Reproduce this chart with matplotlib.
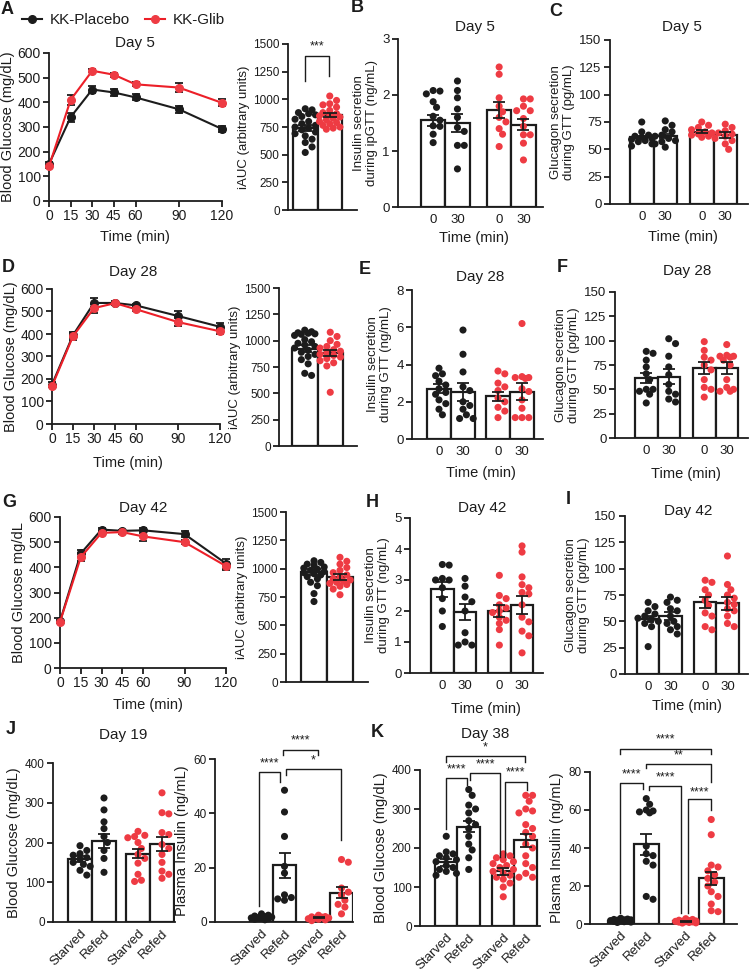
import numpy as np
import matplotlib
matplotlib.use('Agg')
import matplotlib.pyplot as plt
from matplotlib.lines import Line2D

plt.rcParams['font.family'] = ['Liberation Sans', 'DejaVu Sans']
plt.rcParams['text.color'] = '#1c1c1c'
plt.rcParams['axes.labelcolor'] = '#1c1c1c'

BLK = '#1c1c1c'
RED = '#ee3b43'
RED_LINE = '#ec1f28'

# ---- GTT curves (mean, sem) ----
t = [0, 15, 30, 45, 60, 90, 120]
A_plac = [150, 340, 452, 440, 420, 372, 292]
A_plac_err = [8, 18, 15, 13, 12, 15, 12]
A_glib = [140, 410, 528, 512, 473, 460, 398]
A_glib_err = [5, 20, 6, 8, 8, 18, 14]
D_plac = [175, 395, 538, 538, 527, 480, 432]
D_plac_err = [10, 15, 20, 8, 8, 22, 18]
D_glib = [168, 390, 515, 537, 510, 453, 412]
D_glib_err = [5, 15, 20, 6, 8, 18, 12]
G_plac = [185, 455, 550, 545, 547, 532, 415]
G_plac_err = [5, 12, 5, 5, 10, 12, 20]
G_glib = [183, 440, 537, 540, 523, 500, 405]
G_glib_err = [5, 15, 8, 6, 20, 8, 15]

# ---- iAUC ----
A_iauc_mean = [740, 860]
A_iauc_sem = [25, 20]
A_iauc_pts = [[915, 905, 880, 870, 860, 845, 820, 800, 780, 765, 750, 740, 725, 705, 690, 670, 640, 610, 570, 520],
              [1030, 990, 960, 950, 930, 900, 880, 870, 860, 850, 840, 830, 815, 800, 790, 780, 765, 750, 740, 730]]
D_iauc_mean = [925, 880]
D_iauc_sem = [30, 30]
D_iauc_pts = [[1100, 1085, 1075, 1070, 1065, 1060, 1050, 1010, 990, 975, 960, 945, 930, 910, 890, 870, 850, 820, 780, 690, 670],
              [1080, 1040, 1000, 965, 945, 930, 915, 900, 885, 870, 860, 845, 830, 810, 790, 760, 510]]
G_iauc_mean = [970, 925]
G_iauc_sem = [25, 25]
G_iauc_pts = [[1070, 1055, 1040, 1030, 1015, 1005, 995, 985, 975, 965, 955, 945, 930, 910, 880, 850, 780, 710],
              [1100, 1065, 1040, 1010, 985, 965, 945, 925, 910, 900, 890, 880, 870, 860, 845, 820, 770]]

# ---- secretion during GTT: Placebo 0, Placebo 30, Glib 0, Glib 30 ----
time_labels = ['0', '30', '0', '30']
B_mean = [1.55, 1.50, 1.73, 1.47]
B_sem = [0.10, 0.16, 0.14, 0.10]
B_pts = [[2.08, 2.07, 2.02, 1.88, 1.78, 1.62, 1.55, 1.45, 1.44, 1.30, 1.15],
         [2.25, 2.08, 1.95, 1.75, 1.60, 1.42, 1.35, 1.10, 1.10, 0.68],
         [2.50, 2.37, 1.95, 1.80, 1.70, 1.60, 1.52, 1.40, 1.30, 1.08],
         [1.93, 1.93, 1.80, 1.72, 1.72, 1.58, 1.44, 1.29, 1.29, 1.14, 0.84]]
C_mean = [61, 62, 66, 63]
C_sem = [1.5, 2.0, 1.5, 2.5]
C_pts = [[75, 66, 63, 62, 61, 60, 59, 58, 57, 55, 53],
         [76, 72, 68, 66, 63, 62, 60, 58, 57, 55, 52],
         [75, 72, 70, 68, 66, 65, 64, 63, 62, 61],
         [73, 70, 67, 65, 64, 62, 60, 58, 55, 50]]
E_mean = [2.7, 2.5, 2.3, 2.55]
E_sem = [0.25, 0.48, 0.25, 0.45]
E_pts = [[3.8, 3.5, 3.4, 3.1, 2.9, 2.7, 2.5, 2.4, 2.1, 1.9, 1.6, 1.3],
         [5.85, 4.55, 3.6, 2.8, 2.6, 2.0, 1.8, 1.6, 1.3, 1.1, 1.1],
         [3.65, 3.5, 3.0, 2.8, 2.6, 2.2, 2.0, 1.7, 1.5, 1.15],
         [6.2, 3.35, 3.3, 3.3, 3.25, 2.7, 2.55, 2.1, 1.65, 1.15, 1.15, 1.15]]
F_mean = [62, 63, 72, 72]
F_sem = [5, 8, 6, 6]
F_pts = [[89, 87, 80, 73, 66, 60, 50, 50, 48, 45, 36],
         [102, 97, 84, 73, 65, 55, 48, 45, 40, 37],
         [99, 90, 83, 80, 75, 70, 60, 52, 50, 42],
         [96, 85, 84, 84, 83, 80, 75, 60, 52, 50, 48, 48]]
H_mean = [2.7, 1.97, 2.0, 2.2]
H_sem = [0.25, 0.27, 0.2, 0.3]
H_pts = [[3.5, 3.48, 3.05, 3.0, 3.0, 2.75, 2.4, 2.0, 1.5],
         [3.05, 2.8, 2.45, 2.3, 2.0, 1.3, 1.0, 0.9, 0.9],
         [3.15, 2.5, 2.4, 2.2, 2.1, 2.0, 1.95, 1.8, 1.7, 1.6, 1.4, 0.9],
         [4.1, 3.9, 3.1, 2.85, 2.75, 2.6, 2.55, 2.2, 1.8, 1.65, 1.35, 1.2, 0.65]]
I_mean = [52, 55, 68, 67]
I_sem = [3, 4, 5, 6]
I_pts = [[68, 64, 60, 57, 55, 53, 52, 50, 48, 45, 26],
         [73, 70, 68, 62, 60, 55, 50, 48, 45, 42, 38],
         [89, 87, 80, 75, 70, 65, 58, 55, 45, 42],
         [112, 85, 80, 75, 72, 68, 66, 62, 60, 55, 48, 45]]

# ---- starved / refed ----
feed_labels = ['Starved', 'Refed', 'Starved', 'Refed']
J_glu_mean = [158, 203, 172, 196]
J_glu_sem = [7, 18, 11, 18]
J_glu_pts = [[192, 180, 172, 168, 162, 158, 150, 145, 140, 130, 118],
             [312, 282, 252, 235, 215, 200, 180, 160, 125],
             [228, 218, 215, 212, 200, 185, 170, 160, 148, 120, 105, 102],
             [325, 275, 272, 225, 220, 195, 185, 170, 150, 128, 120, 110]]
J_ins_mean = [1.6, 20.8, 1.5, 10.8]
J_ins_sem = [0.3, 4.6, 0.2, 2.1]
J_ins_pts = [[3.0, 2.5, 2.2, 2.0, 1.8, 1.5, 1.3, 1.0, 0.8, 1.2, 1.6],
             [48.5, 40.5, 31.5, 20.5, 18.0, 10.0, 9.0, 8.5, 8.0],
             [2.5, 2.0, 1.8, 1.5, 1.2, 1.0, 0.8, 0.5, 1.4, 1.9],
             [23.0, 22.0, 12.5, 11.0, 10.0, 8.0, 6.5, 5.5, 3.0]]
K_glu_mean = [163, 255, 140, 220]
K_glu_sem = [8, 15, 8, 17]
K_glu_pts = [[230, 190, 185, 180, 175, 170, 165, 155, 150, 145, 140, 135, 130],
             [350, 335, 310, 300, 290, 270, 260, 250, 230, 210, 195, 175, 145],
             [185, 180, 175, 170, 165, 160, 155, 150, 145, 140, 135, 130, 125, 120, 110, 100, 75],
             [335, 335, 320, 300, 295, 290, 260, 250, 240, 230, 210, 200, 180, 160, 150, 135, 125, 125]]
K_ins_mean = [1.8, 42, 1.5, 24]
K_ins_sem = [0.3, 5.5, 0.3, 3.5]
K_ins_pts = [[3.0, 2.6, 2.4, 2.2, 2.0, 1.8, 1.6, 1.4, 1.2, 1.0, 0.8, 1.5, 2.2],
             [66, 63, 60, 59.5, 59, 58.5, 41, 37, 36, 33, 31, 14.5, 13],
             [2.8, 2.4, 2.0, 1.8, 1.6, 1.4, 1.2, 1.0, 0.8, 0.6, 0.5, 1.5, 1.1],
             [55, 47, 31, 30, 28, 26, 24, 22, 20, 17, 14.5, 10.5, 7, 6.5]]

group_colors = [BLK, BLK, RED, RED]

W, H = 753, 971
fig = plt.figure(figsize=(W / 100, H / 100), dpi=100)


def px_axes(l, t_, r, b):
    return fig.add_axes([l / W, 1 - b / H, (r - l) / W, (b - t_) / H])


def geom(L, R, b0, bw, r0=None):
    # bar positions in units of one bar width, limits matching the pixel layout
    pos = [0, 1] if r0 is None else [0, 1, (r0 - b0) / bw, (r0 - b0) / bw + 1]
    return pos, ((L - b0) / bw - 0.5, (R - b0) / bw - 0.5)


def style(ax, fs=9):
    for s in ['top', 'right']:
        ax.spines[s].set_visible(False)
    for s in ['left', 'bottom']:
        ax.spines[s].set_linewidth(1.3)
        ax.spines[s].set_color(BLK)
    ax.tick_params(direction='out', length=4, width=1.3, colors=BLK, labelsize=fs, pad=2)


def swarm(ax, x0, vals, color, d=6.8, maxw=12):
    tr = ax.transData
    ys = tr.transform(np.column_stack([np.full(len(vals), x0), vals]))[:, 1]
    cx = tr.transform((x0, 0))[0]
    placed = []
    xs = np.zeros(len(vals))
    for i in np.argsort(vals)[::-1]:
        best, best_gap = 0.0, -1
        for k in range(40):
            off = ((k + 1) // 2) * d * 0.5 * (1 if k % 2 else -1)
            if abs(off) > maxw:
                continue
            gap = min([np.hypot(off - px, ys[i] - py) for px, py in placed] or [99])
            if gap >= d * 0.9:
                best = off
                break
            if gap > best_gap:
                best, best_gap = off, gap
        placed.append((best, ys[i]))
        xs[i] = best
    back = tr.inverted().transform(np.column_stack([cx + xs, ys]))
    ax.scatter(back[:, 0], vals, s=26, color=color, edgecolors='none', zorder=4, clip_on=False)


def bar_group(ax, pos, means, sems, pts, colors, cap=4):
    ax.bar(pos, means, width=1.0, color='white', edgecolor=BLK, linewidth=1.6, zorder=2)
    for p, v, c in zip(pos, pts, colors):
        swarm(ax, p, v, c)
    ax.errorbar(pos, means, yerr=sems, fmt='none', ecolor=BLK, elinewidth=1.3,
                capsize=cap, capthick=1.3, zorder=5)


def bracket(ax, x1, x2, y, y1, y2, label, ly, fs=9):
    ax.plot([x1, x1, x2, x2], [y1, y, y, y2], color=BLK, lw=1.0, clip_on=False, zorder=6)
    ax.text((x1 + x2) / 2, ly, label, ha='center', va='center', fontsize=fs, clip_on=False)


def gtt(ax, ylab, plac, plac_err, glib, glib_err):
    style(ax, 10)
    ax.set_xlim(0, 120)
    ax.set_ylim(0, 600)
    for m, e, lc, mc, z in [(plac, plac_err, BLK, BLK, 3), (glib, glib_err, RED_LINE, RED, 4)]:
        cont = ax.errorbar(t, m, yerr=e, color=lc, lw=1.5, marker='o', ms=5.5, mfc=mc, mec=mc,
                           ecolor=BLK, elinewidth=1.3, capsize=3, capthick=1.3, zorder=z)
        for a in cont.get_children():
            a.set_clip_on(False)
    ax.set_xticks(t)
    ax.set_yticks(np.arange(0, 601, 100))
    ax.set_ylabel(ylab, fontsize=10.5, labelpad=2)


def iauc(ax, L, R, b0, bw, means, sems, pts):
    style(ax, 8.5)
    pos, xl = geom(L, R, b0, bw)
    ax.set_xlim(*xl)
    ax.set_ylim(0, 1500)
    ax.set_yticks(np.arange(0, 1501, 250))
    ax.set_xticks([])
    bar_group(ax, pos, means, sems, pts, [BLK, RED], cap=5)
    ax.set_ylabel('iAUC (arbitrary units)', fontsize=9.5, labelpad=2)
    return pos


def secretion(ax, L, R, b0, bw, r0, ymax, step, ylab, means, sems, pts):
    style(ax, 9.5)
    pos, xl = geom(L, R, b0, bw, r0)
    ax.set_xlim(*xl)
    ax.set_ylim(0, ymax)
    ax.set_yticks(np.arange(0, ymax + step / 2, step))
    ax.set_xticks(pos)
    ax.set_xticklabels(time_labels)
    ax.tick_params(axis='x', length=0, pad=5)
    bar_group(ax, pos, means, sems, pts, group_colors)
    ax.set_ylabel(ylab, fontsize=9.5, labelpad=3, linespacing=1.1)
    return pos


def feeding(ax, L, R, b0, bw, r0, ymax, step, ylab, means, sems, pts):
    style(ax, 8.5)
    pos, xl = geom(L, R, b0, bw, r0)
    ax.set_xlim(*xl)
    ax.set_ylim(0, ymax)
    ax.set_yticks(np.arange(0, ymax + step / 2, step))
    ax.set_xticks(pos)
    ax.set_xticklabels(feed_labels, rotation=45, ha='right', va='top', rotation_mode='anchor')
    ax.tick_params(axis='x', length=0, pad=4, labelsize=9.5)
    bar_group(ax, pos, means, sems, pts, group_colors)
    ax.set_ylabel(ylab, fontsize=10.5, labelpad=3)
    return pos


# ---------- row 1 ----------
axA = px_axes(49, 53, 222, 201)
gtt(axA, 'Blood Glucose (mg/dL)', A_plac, A_plac_err, A_glib, A_glib_err)
axA2 = px_axes(288, 44, 357, 210)
iauc(axA2, 288, 357, 293, 24.5, A_iauc_mean, A_iauc_sem, A_iauc_pts)
bracket(axA2, -0.01, 0.98, 1395, 1163, 1208, '***', 1480)
axB = px_axes(398, 39, 543, 207)
secretion(axB, 398, 543, 421, 24.3, 487, 3, 1, 'Insulin secretion\nduring ipGTT (ng/mL)', B_mean, B_sem, B_pts)
axC = px_axes(610, 40, 748, 204)
secretion(axC, 610, 748, 630, 23.5, 690, 150, 25, 'Glucagon secretion\nduring GTT (pg/mL)', C_mean, C_sem, C_pts)

# ---------- row 2 ----------
axD = px_axes(52, 289, 220, 424)
gtt(axD, 'Blood Glucose (mg/dL)', D_plac, D_plac_err, D_glib, D_glib_err)
axD2 = px_axes(279, 288, 357, 446)
iauc(axD2, 279, 357, 292, 25.5, D_iauc_mean, D_iauc_sem, D_iauc_pts)
axE = px_axes(412, 290, 543, 439)
secretion(axE, 412, 543, 427, 24, 486, 8, 2, 'Insulin secretion\nduring GTT (ng/mL)', E_mean, E_sem, E_pts)
axF = px_axes(615, 292, 748, 438)
secretion(axF, 615, 748, 635, 22.5, 693, 150, 25, 'Glucagon secretion\nduring GTT (pg/mL)', F_mean, F_sem, F_pts)

# ---------- row 3 ----------
axG = px_axes(60, 517, 226, 668)
gtt(axG, 'Blood Glucose mg/dL', G_plac, G_plac_err, G_glib, G_glib_err)
axG2 = px_axes(286, 512, 368, 682)
iauc(axG2, 286, 368, 301, 26, G_iauc_mean, G_iauc_sem, G_iauc_pts)
axH = px_axes(410, 518, 543, 673)
secretion(axH, 410, 543, 431, 22.7, 488, 5, 1, 'Insulin secretion\nduring GTT (ng/mL)', H_mean, H_sem, H_pts)
axI = px_axes(625, 516, 748, 674)
secretion(axI, 625, 748, 637, 22.3, 694, 150, 25, 'Glucagon secretion\nduring GTT (pg/mL)', I_mean, I_sem, I_pts)

# ---------- row 4 ----------
axJ1 = px_axes(53, 763, 175, 922)
feeding(axJ1, 53, 175, 68, 24, 126, 400, 100, 'Blood Glucose (mg/dL)', J_glu_mean, J_glu_sem, J_glu_pts)
axJ2 = px_axes(215, 759, 353, 922)
feeding(axJ2, 215, 353, 250, 23, 307, 60, 20, 'Plasma Insulin (ng/mL)', J_ins_mean, J_ins_sem, J_ins_pts)
bracket(axJ2, -0.1, 0.8, 55.3, 5.8, 51.6, '****', 58.4)
bracket(axJ2, 0.92, 2.46, 63.3, 61.4, 61.4, '****', 67)
bracket(axJ2, 1.05, 3.44, 56.2, 54.0, 30.2, '*', 59.6)

axK1 = px_axes(420, 770, 540, 926)
feeding(axK1, 420, 540, 435, 22.5, 492, 400, 100, 'Blood Glucose (mg/dL)', K_glu_mean, K_glu_sem, K_glu_pts)
bracket(axK1, -0.01, 3.5, 435, 421, 421, '*', 458)
bracket(axK1, 0.0, 0.91, 380, 250, 362, '****', 402)
bracket(axK1, 1.06, 2.39, 393, 374, 178, '****', 415)
bracket(axK1, 2.61, 3.57, 370, 178, 349, '****', 393)

axK2 = px_axes(590, 772, 737, 924)
feeding(axK2, 590, 737, 608, 25.5, 673, 80, 20, 'Plasma Insulin (ng/mL)', K_ins_mean, K_ins_sem, K_ins_pts)
bracket(axK2, -0.03, 3.53, 92.3, 89.7, 89.7, '****', 97)
bracket(axK2, 0.99, 3.53, 84.4, 82.0, 74.8, '**', 88.7)
bracket(axK2, -0.03, 0.88, 74.3, 5.6, 71.3, '****', 78.6)
bracket(axK2, 1.12, 2.35, 72.7, 70.4, 5.6, '****', 77)
bracket(axK2, 2.65, 3.53, 65.7, 5.6, 60.2, '****', 69)

# ---------- titles, x labels, panel letters ----------
def ftext(x, y, s, **kw):
    fig.text(x / W, 1 - y / H, s, ha='center', va='center', **kw)

for x, y, s in [(135, 43, 'Day 5'), (475, 27, 'Day 5'), (682, 27, 'Day 5'),
                (133, 272, 'Day 28'), (480, 277, 'Day 28'), (687, 271, 'Day 28'),
                (143, 508, 'Day 42'), (482, 508, 'Day 42'), (688, 511, 'Day 42'),
                (123, 735, 'Day 19'), (485, 734, 'Day 38')]:
    ftext(x, y, s, fontsize=11)

for x, y in [(135, 237), (474, 238), (683, 237), (128, 463), (481, 473), (686, 474),
             (148, 705), (486, 709), (687, 706)]:
    ftext(x, y, 'Time (min)', fontsize=10.5)

for x, y, s in [(7, 10, 'A'), (357, 8, 'B'), (556, 11, 'C'), (8, 267, 'D'), (365, 270, 'E'),
                (562, 268, 'F'), (9, 502, 'G'), (372, 502, 'H'), (568, 499, 'I'),
                (11, 729, 'J'), (377, 732, 'K')]:
    ftext(x, y, s, fontsize=13, fontweight='bold')

# legend
handles = [Line2D([], [], color=BLK, marker='o', ms=5.5, lw=1.5),
           Line2D([], [], color=RED_LINE, marker='o', ms=5.5, mfc=RED, mec=RED, lw=1.5)]
fig.legend(handles, ['KK-Placebo', 'KK-Glib'], loc='center left', bbox_to_anchor=(22 / W, 1 - 20 / H),
           ncol=2, frameon=False, fontsize=11, handlelength=1.3, handletextpad=0.5,
           columnspacing=1.0, borderpad=0, borderaxespad=0)

fig.savefig('out.png', dpi=100)
